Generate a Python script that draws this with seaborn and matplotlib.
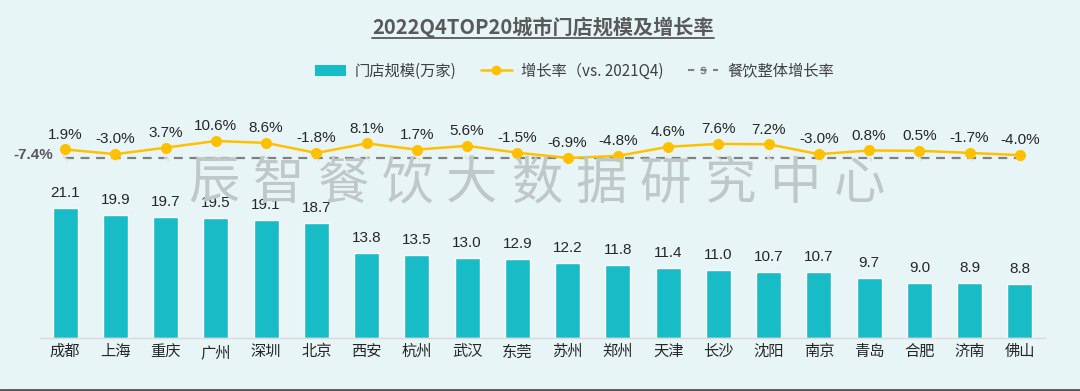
import matplotlib
matplotlib.use("Agg")
import matplotlib.pyplot as plt
import seaborn as sns
import pandas as pd
from matplotlib.lines import Line2D
from matplotlib.patches import Patch

cities = ["成都", "上海", "重庆", "广州", "深圳", "北京", "西安", "杭州", "武汉", "东莞",
          "苏州", "郑州", "天津", "长沙", "沈阳", "南京", "青岛", "合肥", "济南", "佛山"]
stores = [21.1, 19.9, 19.7, 19.5, 19.1, 18.7, 13.8, 13.5, 13.0, 12.9,
          12.2, 11.8, 11.4, 11.0, 10.7, 10.7, 9.7, 9.0, 8.9, 8.8]
growth = [1.9, -3.0, 3.7, 10.6, 8.6, -1.8, 8.1, 1.7, 5.6, -1.5,
          -6.9, -4.8, 4.6, 7.6, 7.2, -3.0, 0.8, 0.5, -1.7, -4.0]
overall = [-7.4] * 20

title = "2022Q4TOP20城市门店规模及增长率"
legend_labels = ["门店规模(万家)", "增长率（vs. 2021Q4)", "餐饮整体增长率"]
watermark = "辰智餐饮大数据研究中心"

BG = "#E8F5F7"
TEAL = "#17BCC6"
YELLOW = "#FFC000"
GRAY = "#808080"
TXT = "#262626"

sns.set_theme(style="white")
plt.rcParams["font.family"] = ["Liberation Sans", "Noto Sans CJK SC", "DejaVu Sans"]

df = pd.DataFrame({"city": cities, "stores": stores, "growth": growth, "overall": overall})

fig = plt.figure(figsize=(10.8, 3.91), dpi=100, facecolor=BG)
ax = fig.add_axes([40 / 1080, 1 - 338 / 391, 1005 / 1080, 218 / 391])
ax.set_facecolor("none")

# watermark (behind)
for i, ch in enumerate(watermark):
    fig.text((214 + i * 64.5) / 1080, 1 - 184 / 391, ch, fontsize=37, color="#BFC7C7",
             ha="center", va="center", family=["Noto Sans CJK SC"], fontweight="light",
             zorder=0)

sns.barplot(data=df, x="city", y="stores", color=TEAL, width=0.5, saturation=1,
            ax=ax, zorder=2)
ax.set_xlim(-0.5, 19.5)
ax.set_ylim(0, 35.4)
for i, v in enumerate(stores):
    ax.text(i, v + 1.3, f"{v:.1f}", ha="center", va="bottom", fontsize=11, color=TXT)

ax2 = ax.twinx()
ax2.set_facecolor("none")
sns.lineplot(x=list(range(20)), y=overall, ax=ax2, color=GRAY, linestyle=(0, (4, 3)),
             linewidth=1.6, marker=r"$\mathsf{S}$", markersize=5, markeredgewidth=0.4)
sns.lineplot(x=list(range(20)), y=growth, ax=ax2, color=YELLOW, linewidth=1.8,
             marker="o", markersize=8, markeredgewidth=0)
ax2.set_ylim(-192.3, 32.2)
for i, v in enumerate(growth):
    ax2.text(i, v + 8.0, f"{v:.1f}%", ha="center", va="bottom", fontsize=11, color=TXT)
ax2.text(-0.24, overall[0] + 4.0, f"{overall[0]:.1f}%", ha="right", va="center",
         fontsize=11, color="#595959", fontweight="bold")

for a in (ax, ax2):
    for s in ["top", "left", "right"]:
        a.spines[s].set_visible(False)
    a.set_yticks([])
    a.set_ylabel("")
ax2.spines["bottom"].set_visible(False)
ax.spines["bottom"].set_color("#D9D9D9")
ax.spines["bottom"].set_linewidth(1)
ax.set_xlabel("")
ax.tick_params(axis="x", length=0, pad=5, labelsize=11, labelcolor=TXT)
ax.set_xlim(-0.5, 19.5)
ax2.set_xlim(-0.5, 19.5)

# title with underline
t = fig.text(0.503, 1 - 27 / 391, title, ha="center", va="center", fontsize=14.5,
             fontweight="bold", color="#595959", family=["Noto Sans CJK SC"])
fig.canvas.draw()
bb = t.get_window_extent(fig.canvas.get_renderer()).transformed(fig.transFigure.inverted())
fig.add_artist(Line2D([bb.x0, bb.x1], [bb.y0 - 0.002, bb.y0 - 0.002],
                      color="#595959", linewidth=1.3, transform=fig.transFigure))

handles = [Patch(facecolor=TEAL, edgecolor="none"),
           Line2D([], [], color=YELLOW, marker="o", markersize=7, linewidth=1.8, markeredgewidth=0),
           Line2D([], [], color=GRAY, linestyle=(0, (3, 3)), linewidth=1.5,
                  marker=r"$\mathsf{S}$", markersize=5, markeredgewidth=0.4)]
leg = fig.legend(handles, legend_labels, loc="center", bbox_to_anchor=(0.532, 1 - 71 / 391),
                 ncol=3, frameon=False, fontsize=11, handlelength=2.0, columnspacing=1.6,
                 handletextpad=0.6)
for tx in leg.get_texts():
    tx.set_color("#404040")
    tx.set_family(["Noto Sans CJK SC", "DejaVu Sans"])

fig.add_artist(Line2D([0, 1], [1.5 / 391, 1.5 / 391], color="#555555", linewidth=2,
                      transform=fig.transFigure))

fig.savefig("out.png", dpi=100, facecolor=BG)
